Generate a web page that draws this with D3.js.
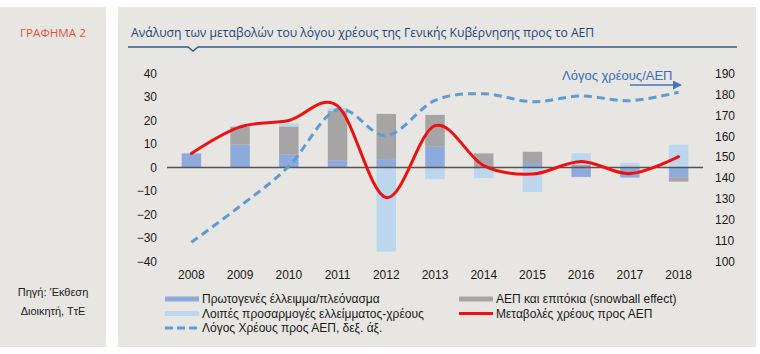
<!DOCTYPE html>
<html><head><meta charset="utf-8">
<script src="https://cdn.jsdelivr.net/npm/d3@7"></script>
<style>body{margin:0;background:#fff}svg{display:block}</style>
</head><body>
<script>
const years = ["2008","2009","2010","2011","2012","2013","2014","2015","2016","2017","2018"];
const primaryBalance = [6.0, 9.7, 5.4, 3.1, 3.6, 8.8, 0, 1.9, -4.0, -4.3, -4.3];
const snowball = [0, 7.7, 12.1, 21.1, 19.2, 13.6, 6.0, 4.8, 1.2, 0, -1.7];
const otherAdj = [0, 0.3, 1.3, 1.2, -35.8, -5.0, -4.5, -10.4, 4.9, 1.9, 9.7];
const debtChange = [6.0, 17.3, 20.0, 26.2, -12.8, 17.8, 0.8, -2.8, 2.6, -2.6, 4.6];
const debtRatio = [109.2, 126.5, 145.6, 172.8, 160.3, 177.1, 180.3, 176.5, 179.2, 177.0, 181.0];
const leftTicks = [-40, -30, -20, -10, 0, 10, 20, 30, 40];
const rightTicks = [100, 110, 120, 130, 140, 150, 160, 170, 180, 190];
const seriesKeys = ["primary", "snowball", "other"];
const seriesNames = {
  primary: "Πρωτογενές έλλειμμα/πλεόνασμα",
  other: "Λοιπές προσαρμογές ελλείμματος-χρέους",
  ratio: "Λόγος Χρέους προς ΑΕΠ, δεξ. άξ.",
  snowball: "ΑΕΠ και επιτόκια (snowball effect)",
  change: "Μεταβολές χρέους προς ΑΕΠ"
};
const chartLabel = "ΓΡΑΦΗΜΑ 2";
const titleText = "Ανάλυση των μεταβολών του λόγου χρέους της Γενικής Κυβέρνησης προς το ΑΕΠ";
const sourceLines = ["Πηγή: 'Εκθεση", "Διοικητή, ΤτΕ"];
const annotation = "Λόγος χρέους/ΑΕΠ";

const colors = {primary:"#8eaadc", snowball:"#a5a5a5", other:"#bcd6ee", change:"#ee1111", ratio:"#5f9bd3"};
const font = "'Liberation Sans', Arial, sans-serif";

const W = 760, H = 354;
const svg = d3.select("body").append("svg").attr("width", W).attr("height", H);
svg.append("rect").attr("width", W).attr("height", H).attr("fill", "#fff");
svg.append("rect").attr("x", 0).attr("y", 7).attr("width", 106).attr("height", 340).attr("fill", "#e7e6e2");
svg.append("rect").attr("x", 118).attr("y", 7).attr("width", 638).attr("height", 340).attr("fill", "#e7e6e2");

// Header
function fitText(sel, target, base) {
  const w = sel.node().getComputedTextLength();
  sel.attr("font-size", base * target / w);
}
const lab = svg.append("text").attr("x", 20).attr("y", 37).attr("font-family", "'Open Sans', sans-serif")
  .attr("font-size", 11).attr("fill", "#e4553f").text(chartLabel);
fitText(lab, 66, 11);
const tt = svg.append("text").attr("x", 131).attr("y", 37).attr("font-family", "'Open Sans', sans-serif")
  .attr("font-size", 13).attr("fill", "#24457a").text(titleText);
fitText(tt, 464, 13);
svg.append("path").attr("d", "M128,47 L188,47 L193,51 L198,47 L737,47")
  .attr("fill", "none").attr("stroke", "#3c5a86").attr("stroke-width", 1.5);

// Source
sourceLines.forEach((s, i) => {
  svg.append("text").attr("x", 53).attr("y", 296 + i * 19).attr("text-anchor", "middle")
    .attr("font-family", font).attr("font-size", 11).attr("fill", "#222").text(s);
});

// Scales
const x = d3.scaleBand().domain(years).range([167, 703]).padding(0);
const yL = d3.scaleLinear().domain([-40, 40]).range([261.5, 73.5]);
const yR = d3.scaleLinear().domain([100, 190]).range([261.5, 73.5]);

const table = years.map((y, i) => ({year: y, primary: primaryBalance[i], snowball: snowball[i], other: otherAdj[i]}));
const stacked = d3.stack().keys(seriesKeys).offset(d3.stackOffsetDiverging)(table);
const barW = x.bandwidth() * 0.4;

const gBars = svg.append("g");
stacked.forEach(layer => {
  gBars.selectAll(null).data(layer).join("rect")
    .attr("x", d => x(d.data.year) + (x.bandwidth() - barW) / 2)
    .attr("width", barW)
    .attr("y", d => yL(Math.max(d[0], d[1])))
    .attr("height", d => Math.abs(yL(d[0]) - yL(d[1])))
    .attr("fill", colors[layer.key]);
});

// zero line
svg.append("line").attr("x1", x.range()[0]).attr("x2", x.range()[1])
  .attr("y1", yL(0)).attr("y2", yL(0)).attr("stroke", "#555").attr("stroke-width", 1.6);

const cx = d => x(d) + x.bandwidth() / 2;

// dashed ratio line
svg.append("path").datum(debtRatio)
  .attr("d", d3.line().x((d, i) => cx(years[i])).y(d => yR(d)).curve(d3.curveCardinal))
  .attr("fill", "none").attr("stroke", colors.ratio).attr("stroke-width", 3).attr("stroke-dasharray", "8,5");

// red change line
svg.append("path").datum(debtChange)
  .attr("d", d3.line().x((d, i) => cx(years[i])).y(d => yL(d)).curve(d3.curveCardinal))
  .attr("fill", "none").attr("stroke", colors.change).attr("stroke-width", 3).attr("stroke-linecap", "round");

// Axes
function styleAxis(g) {
  g.select(".domain").remove();
  g.selectAll("text").attr("font-family", font).attr("font-size", 12).attr("fill", "#1a1a1a");
}
svg.append("g").attr("transform", "translate(157,0)")
  .call(d3.axisLeft(yL).tickValues(leftTicks).tickSize(0).tickPadding(0)).call(styleAxis);
svg.append("g").attr("transform", "translate(715,0)")
  .call(d3.axisRight(yR).tickValues(rightTicks).tickSize(0).tickPadding(0)).call(styleAxis);
svg.append("g").attr("transform", "translate(0,270)")
  .call(d3.axisBottom(x).tickSize(0).tickPadding(0)).call(styleAxis);

// Annotation
svg.append("text").attr("x", 562).attr("y", 80).attr("font-family", font).attr("font-size", 13)
  .attr("fill", "#3a6db5").text(annotation);
svg.append("defs").append("marker").attr("id", "arr").attr("viewBox", "0 0 10 10")
  .attr("refX", 9).attr("refY", 5).attr("markerWidth", 9).attr("markerHeight", 9).attr("orient", "auto")
  .attr("markerUnits", "userSpaceOnUse")
  .append("path").attr("d", "M0,0 L10,5 L0,10 Z").attr("fill", "#4472c4");
svg.append("line").attr("x1", 630).attr("x2", 681).attr("y1", 85).attr("y2", 85)
  .attr("stroke", "#4472c4").attr("stroke-width", 1.5).attr("marker-end", "url(#arr)");

// Legend
const legend = [
  {key: "primary", type: "bar", x: 165, y: 299},
  {key: "other", type: "bar", x: 165, y: 313.5},
  {key: "ratio", type: "dash", x: 165, y: 328},
  {key: "snowball", type: "bar", x: 459, y: 299},
  {key: "change", type: "line", x: 459, y: 313.5}
];
legend.forEach(l => {
  if (l.type === "bar") {
    svg.append("rect").attr("x", l.x).attr("y", l.y - 2.5).attr("width", 34).attr("height", 5).attr("fill", colors[l.key]);
  } else {
    svg.append("line").attr("x1", l.x).attr("x2", l.x + 34).attr("y1", l.y).attr("y2", l.y)
      .attr("stroke", colors[l.key]).attr("stroke-width", 3)
      .attr("stroke-dasharray", l.type === "dash" ? "8,4" : null);
  }
  svg.append("text").attr("x", l.x + 37).attr("y", l.y + 4.3).attr("font-family", font).attr("font-size", 12)
    .attr("fill", "#1a1a1a").text(seriesNames[l.key]);
});
</script>
</body></html>
